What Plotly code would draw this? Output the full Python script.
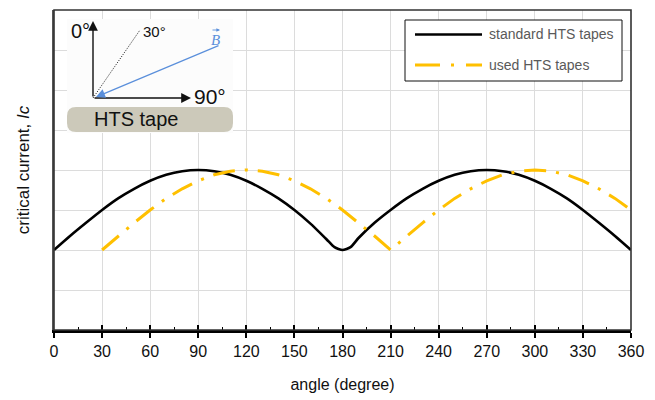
import plotly.graph_objects as go

# ---------------- data ----------------
std_angle = [0, 10, 20, 30, 40, 50, 60, 70, 80, 90, 100, 110, 120, 130, 140, 150,
             160, 170, 175, 180, 185, 190, 200, 210, 220, 230, 240, 250, 260, 270,
             280, 290, 300, 310, 320, 330, 340, 350, 360]
std_ic = [2.0, 2.35, 2.68, 3.0, 3.29, 3.53, 3.73, 3.88, 3.97, 4.0, 3.97, 3.88, 3.73, 3.53, 3.29, 3.0,
          2.66, 2.27, 2.07, 2.0, 2.07, 2.3, 2.68, 3.0, 3.29, 3.53, 3.73, 3.88, 3.97, 4.0,
          3.97, 3.88, 3.73, 3.53, 3.29, 3.0, 2.68, 2.35, 2.0]

used_angle = [30, 40, 50, 60, 70, 80, 90, 100, 110, 120, 130, 140, 150, 160, 170, 180,
              190, 200, 210, 220, 230, 240, 250, 260, 270, 280, 290, 300, 310, 320,
              330, 340, 350, 360]
used_ic = [2.0, 2.35, 2.68, 3.0, 3.29, 3.53, 3.73, 3.88, 3.97, 4.0, 3.97, 3.88, 3.73, 3.53, 3.29, 3.0,
           2.68, 2.35, 2.0, 2.35, 2.68, 3.0, 3.29, 3.53, 3.73, 3.88, 3.97, 4.0, 3.97, 3.88,
           3.73, 3.53, 3.29, 3.0]

x_ticks = [0, 30, 60, 90, 120, 150, 180, 210, 240, 270, 300, 330, 360]
x_ticklabels = [str(v) for v in x_ticks]
series_names = ["standard HTS tapes", "used HTS tapes"]

BLACK = "#000000"
GOLD = "#FFC000"
BLUE = "#5A8FDB"
YDASH = "22px,10px,3px,10px"

# ---------------- layout helpers (pixel -> paper) ----------------
W, H = 655, 400
L, R, T, B = 54, 24, 10, 70
PW, PH = W - L - R, H - T - B


def px(x):
    return (x - L) / PW


def py(y):
    return (H - B - y) / PH


fig = go.Figure()
fig.add_trace(go.Scatter(x=std_angle, y=std_ic, mode="lines", name=series_names[0],
                         line=dict(color=BLACK, width=2.6, shape="spline", smoothing=0.6),
                         showlegend=False))
fig.add_trace(go.Scatter(x=used_angle, y=used_ic, mode="lines", name=series_names[1],
                         line=dict(color=GOLD, width=3, dash=YDASH),
                         showlegend=False))
# invisible trace to activate the overlay axis (crossing major ticks)
fig.add_trace(go.Scatter(x=[0, 360], y=[0, 0], xaxis="x2", mode="lines",
                         line=dict(width=0), hoverinfo="skip", showlegend=False))

shapes = []
annotations = []

# plot frame
shapes.append(dict(type="rect", xref="paper", yref="paper", x0=0, x1=1, y0=0, y1=1,
                   line=dict(color="#333333", width=1.6), layer="above"))

# ---------- inset ----------
shapes.append(dict(type="rect", xref="paper", yref="paper",
                   x0=px(67), x1=px(233), y0=py(133), y1=py(19),
                   fillcolor="#FCFCFC", line=dict(width=0), layer="above"))


def rounded(x0, y0, x1, y1, r):
    # rounded rectangle path in paper coords, r in pixels
    rx, ry = r / PW, r / PH
    X0, X1, Y0, Y1 = px(x0), px(x1), py(y1), py(y0)
    return (f"M{X0+rx},{Y0} L{X1-rx},{Y0} Q{X1},{Y0} {X1},{Y0+ry} "
            f"L{X1},{Y1-ry} Q{X1},{Y1} {X1-rx},{Y1} L{X0+rx},{Y1} "
            f"Q{X0},{Y1} {X0},{Y1-ry} L{X0},{Y0+ry} Q{X0},{Y0} {X0+rx},{Y0} Z")


shapes.append(dict(type="path", xref="paper", yref="paper",
                   path=rounded(67, 107, 233, 132, 9),
                   fillcolor="#CCC9BA", line=dict(width=0), layer="above"))
shapes.append(dict(type="line", xref="paper", yref="paper",
                   x0=px(93), y0=py(98), x1=px(140), y1=py(30),
                   line=dict(color="#111111", width=1, dash="1px,1.5px"), layer="above"))


def txt(x, y, text, size, color="#111111", xanchor="center", family="Liberation Sans, Arial"):
    return dict(xref="paper", yref="paper", x=px(x), y=py(y), text=text,
                xanchor=xanchor, yanchor="middle", showarrow=False,
                font=dict(family=family, size=size, color=color))


# arrows
annotations.append(dict(xref="paper", yref="paper", x=px(93), y=py(21), ax=0, ay=77,
                        showarrow=True, arrowhead=2, arrowsize=1.4, arrowwidth=1.4,
                        arrowcolor="#111111", text=""))
annotations.append(dict(xref="paper", yref="paper", x=px(191), y=py(98), ax=-98, ay=0,
                        showarrow=True, arrowhead=2, arrowsize=1.4, arrowwidth=1.4,
                        arrowcolor="#111111", text=""))
annotations.append(dict(xref="paper", yref="paper", x=px(96), y=py(97), ax=124, ay=-52,
                        showarrow=True, arrowhead=2, arrowsize=1.5, arrowwidth=1.2,
                        arrowcolor=BLUE, text=""))
# small vector arrow over "B"
annotations.append(dict(xref="paper", yref="paper", x=px(220), y=py(30), ax=-9, ay=0,
                        showarrow=True, arrowhead=2, arrowsize=0.8, arrowwidth=0.9,
                        arrowcolor=BLUE, text=""))
# inset texts
annotations.append(txt(80, 31, "0°", 20))
annotations.append(txt(192, 96, "90°", 21, xanchor="left"))
annotations.append(txt(141, 32, "30°", 15, xanchor="left"))
annotations.append(txt(215, 40, "<i>B</i>", 15, color=BLUE, family="Liberation Serif, DejaVu Serif"))
annotations.append(txt(92, 119, "HTS tape", 20, xanchor="left"))

# ---------- manual legend ----------
shapes.append(dict(type="rect", xref="paper", yref="paper",
                   x0=px(405), x1=px(622), y0=py(81), y1=py(20),
                   fillcolor="white", line=dict(color="#111111", width=1), layer="above"))
shapes.append(dict(type="line", xref="paper", yref="paper",
                   x0=px(415), x1=px(482), y0=py(34.5), y1=py(34.5),
                   line=dict(color=BLACK, width=2.6), layer="above"))
shapes.append(dict(type="line", xref="paper", yref="paper",
                   x0=px(415), x1=px(482), y0=py(65), y1=py(65),
                   line=dict(color=GOLD, width=3, dash="25px,11px,3px,12px"), layer="above"))
for name, yy in zip(series_names, [34.5, 65]):
    annotations.append(txt(487, yy, name, 14, color="#595959", xanchor="left"))

TICKFONT = dict(family="Liberation Sans, Arial", size=16, color="#111111")

fig.update_layout(
    width=W, height=H,
    margin=dict(l=L, r=R, t=T, b=B),
    paper_bgcolor="white", plot_bgcolor="white",
    shapes=shapes, annotations=annotations,
    showlegend=False,
    xaxis=dict(range=[0, 360], tickvals=x_ticks, ticktext=x_ticklabels,
               showgrid=True, gridcolor="#DCDCDC", gridwidth=1,
               showline=True, linecolor="black", linewidth=2.6,
               ticks="outside", ticklen=5, tickwidth=1.6, tickcolor="black",
               minor=dict(tickvals=[15 + 30 * i for i in range(12)], ticks="inside",
                          ticklen=3, tickwidth=1, tickcolor="black", showgrid=False),
               tickfont=TICKFONT, zeroline=False,
               title=dict(text="angle (degree)", font=TICKFONT, standoff=20)),
    xaxis2=dict(overlaying="x", matches="x", range=[0, 360], tickvals=x_ticks,
                showticklabels=False, ticks="inside", ticklen=5, tickwidth=1.6,
                tickcolor="black", showgrid=False, showline=False, zeroline=False,
                side="bottom"),
    yaxis=dict(range=[0, 8], dtick=1, showticklabels=False, ticks="",
               showgrid=True, gridcolor="#DCDCDC", gridwidth=1,
               showline=True, linecolor="#555555", linewidth=2, zeroline=False,
               title=dict(text="critical current, <i>Ic</i>",
                          font=dict(family="Liberation Sans, Arial", size=17, color="#111111"),
                          standoff=18)),
)

fig.write_html("out.html", config={"displayModeBar": False},
               post_script="document.body.style.margin='0';")
